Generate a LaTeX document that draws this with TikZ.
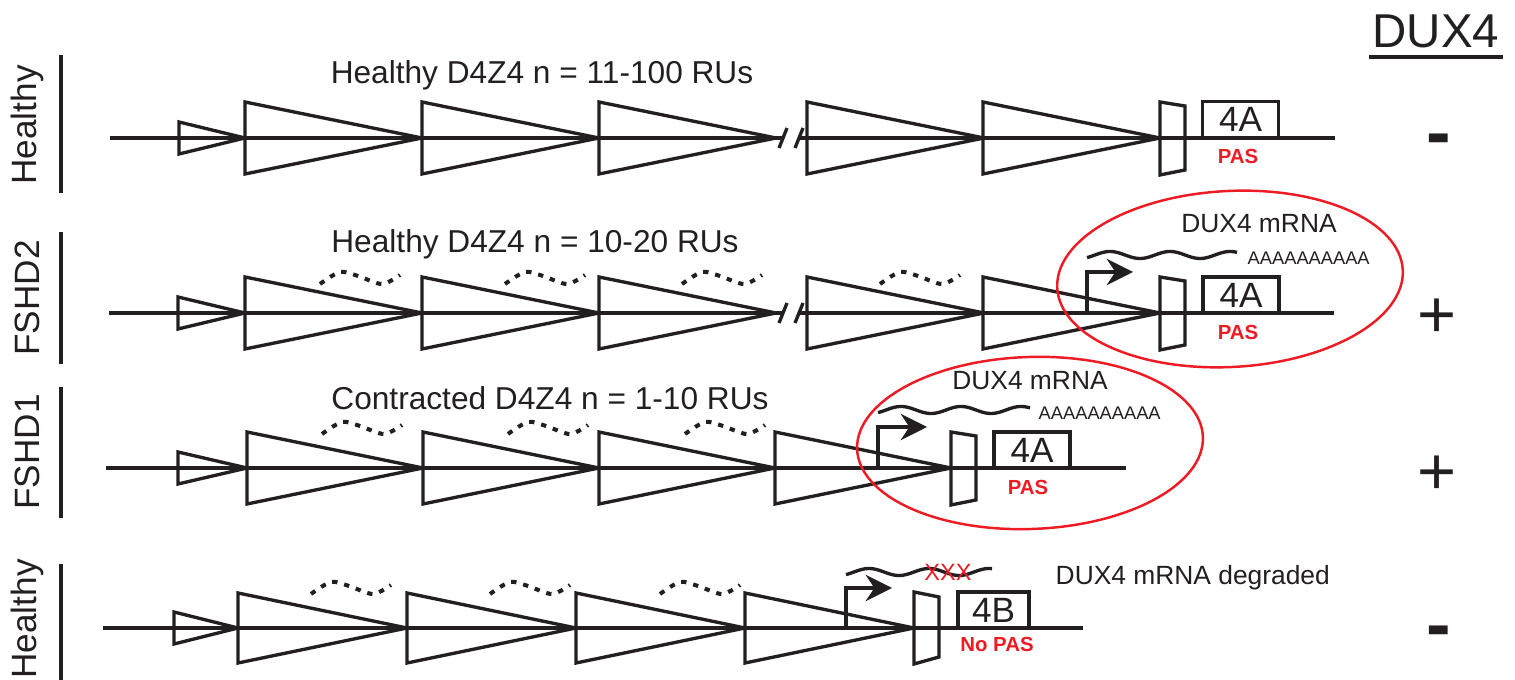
\documentclass[tikz,border=0pt]{standalone}
\usepackage{fontspec}
\setmainfont{Liberation Sans}
\usetikzlibrary{arrows.meta}
\definecolor{ink}{RGB}{35,31,32}
\definecolor{pasred}{RGB}{237,28,36}

\begin{document}
\begin{tikzpicture}[x=0.01cm, y=-0.01cm, color=ink,
    gene/.style={line width=0.95pt, line join=miter},
    hetero/.style={line width=1.15pt, dash pattern=on 1.5pt off 2pt},
    tss/.style={line width=0.95pt, -{Stealth[length=7.5pt, width=7.5pt, inset=2.5pt]}},
    oval/.style={draw=pasred, line width=0.7pt},
    exon box/.style={draw, line width=0.95pt, inner sep=0pt, minimum height=0.36cm, font=\fontsize{10}{10}\selectfont},
    pas label/.style={text=pasred, inner sep=0pt, font=\fontsize{5.8}{6}\selectfont\bfseries},
    row label/.style={anchor=base, inner sep=0pt, font=\fontsize{9}{10}\selectfont},
    side label/.style={rotate=90, inner sep=0pt, font=\fontsize{10}{10}\selectfont},
    mrna label/.style={inner sep=0pt, font=\fontsize{7.5}{8}\selectfont},
    polya label/.style={anchor=west, inner sep=0pt, font=\fontsize{5.2}{6}\selectfont},
    sign/.style={anchor=base, inner sep=0pt}]

    \useasboundingbox (0,0) rectangle (1515,680);

    % header
    \node[anchor=base, inner sep=0pt, font=\fontsize{13.5}{14}\selectfont] (dux) at (1436,48) {DUX4};
    \draw[line width=0.95pt] (1369,57) -- (1503,57);

    % row 1: healthy, 11-100 RUs
    \node[side label] (side1) at (27,125) {Healthy};
    \draw[line width=0.95pt] (61,55) -- (61,193);
    \node[row label] (ru1) at (542,84) {Healthy D4Z4 n = 11-100 RUs};
    \draw[gene] (110,138) -- (783,138) (799,138) -- (1335,138);
    \draw[gene] (779,148) -- (787,128) (795,148) -- (803,128);
    \draw[gene] (179,122) -- (245,138) -- (179,154) -- cycle;
    \foreach \x in {245,422,599,807,983}
        \draw[gene] (\x,102) -- (\x+177,138) -- (\x,174) -- cycle;
    \draw[gene] (1160,102) -- (1185,106) -- (1185,170) -- (1160,175) -- cycle;
    \node[exon box, minimum width=0.76cm] (ex1) at (1240.5,119.5) {4A};
    \node[pas label] (pas1) at (1238,156) {PAS};
    \node[sign, font=\fontsize{21}{21}\selectfont\bfseries] (sign1) at (1439,158) {-};

    % row 2: FSHD2, 10-20 RUs
    \node[side label] (side2) at (27,298) {FSHD2};
    \draw[line width=0.95pt] (61,232) -- (61,364);
    \node[row label] (ru2) at (535,253) {Healthy D4Z4 n = 10-20 RUs};
    \draw[gene] (109,313) -- (783,313) (799,313) -- (1334,313);
    \draw[gene] (779,323) -- (787,303) (795,323) -- (803,303);
    \draw[gene] (178,297) -- (245,313) -- (178,329) -- cycle;
    \foreach \x in {245,422,599,807,983}
        \draw[gene] (\x,277) -- (\x+177,313) -- (\x,349) -- cycle;
    \foreach \x in {320,505,682,880}
        \draw[hetero, shift={(\x,278)}] plot[smooth] coordinates {(0,6) (20,-6) (38,-2) (62,6) (80,-3)};
    \draw[gene] (1160,277) -- (1185,281) -- (1185,345) -- (1160,350) -- cycle;
    \node[exon box, minimum width=0.76cm] (ex2) at (1241,295) {4A};
    \node[pas label] (pas2) at (1238,332) {PAS};
    \coordinate (tss2) at (1087,313);
    \draw[tss] (tss2) -- ++(0,-41) -- ++(46,0);
    \draw[line width=0.95pt] plot[domain=0:150, samples=80, smooth] ({1087+\x},{255-3.5*sin(6*(\x-8))});
    \node[mrna label] (mrna2) at (1259,224) {DUX4 mRNA};
    \node[polya label] (polya2) at (1247,258) {AAAAAAAAAA};
    \draw[oval, rotate around={3:(1230,279)}] (1230,279) ellipse [x radius=173, y radius=88];
    \node[sign, font=\fontsize{19}{19}\selectfont] (sign2) at (1437,338) {+};

    % row 3: FSHD1, contracted
    \node[side label] (side3) at (27,452) {FSHD1};
    \draw[line width=0.95pt] (61,387) -- (61,518);
    \node[row label] (ru3) at (550,410) {Contracted D4Z4 n = 1-10 RUs};
    \draw[gene] (106,468) -- (1126,468);
    \draw[gene] (178,452) -- (247,468) -- (178,484) -- cycle;
    \foreach \x in {247,423,599,775}
        \draw[gene] (\x,432) -- (\x+176,468) -- (\x,504) -- cycle;
    \foreach \x in {322,508,685}
        \draw[hetero, shift={(\x,428)}] plot[smooth] coordinates {(0,6) (20,-6) (38,-2) (62,6) (80,-3)};
    \draw[gene] (951,432) -- (976,436) -- (976,500) -- (951,505) -- cycle;
    \node[exon box, minimum width=0.76cm] (ex3) at (1032,450) {4A};
    \node[pas label] (pas3) at (1028,487) {PAS};
    \coordinate (tss3) at (878,468);
    \draw[tss] (tss3) -- ++(0,-41) -- ++(49,0);
    \draw[line width=0.95pt] plot[domain=0:152, samples=80, smooth] ({878+\x},{410-3.5*sin(6*(\x-8))});
    \node[mrna label] (mrna3) at (1030,381) {DUX4 mRNA};
    \node[polya label] (polya3) at (1038,413) {AAAAAAAAAA};
    \draw[oval, rotate around={2:(1030,443)}] (1030,443) ellipse [x radius=173, y radius=86];
    \node[sign, font=\fontsize{19}{19}\selectfont] (sign3) at (1437,495) {+};

    % row 4: healthy, 4B allele
    \node[side label] (side4) at (27,619) {Healthy};
    \draw[line width=0.95pt] (61,564) -- (61,680);
    \draw[gene] (103,628) -- (1083,628);
    \draw[gene] (174,612) -- (238,628) -- (174,644) -- cycle;
    \foreach \x in {238,407,576,745}
        \draw[gene] (\x,593) -- (\x+169,628) -- (\x,663) -- cycle;
    \foreach \x in {311,490,660}
        \draw[hetero, shift={(\x,588)}] plot[smooth] coordinates {(0,6) (20,-6) (38,-2) (62,6) (80,-3)};
    \draw[gene] (914,592) -- (939,597) -- (939,657) -- (914,664) -- cycle;
    \node[exon box, minimum width=0.71cm] (ex4) at (993.5,610) {4B};
    \node[pas label] (pas4) at (997,644) {No PAS};
    \coordinate (tss4) at (846,628);
    \draw[tss] (tss4) -- ++(0,-40) -- ++(46,0);
    \draw[line width=0.95pt] plot[domain=0:146, samples=80, smooth] ({846+\x},{572-3.5*sin(6*(\x-8))});
    \node[inner sep=0pt, text=pasred, font=\fontsize{6.7}{7}\selectfont] (xxx) at (948,572) {XXX};
    \node[mrna label, anchor=base west] (mrna4) at (1055,585) {DUX4 mRNA degraded};
    \node[sign, font=\fontsize{21}{21}\selectfont\bfseries] (sign4) at (1439,650) {-};
\end{tikzpicture}
\end{document}
